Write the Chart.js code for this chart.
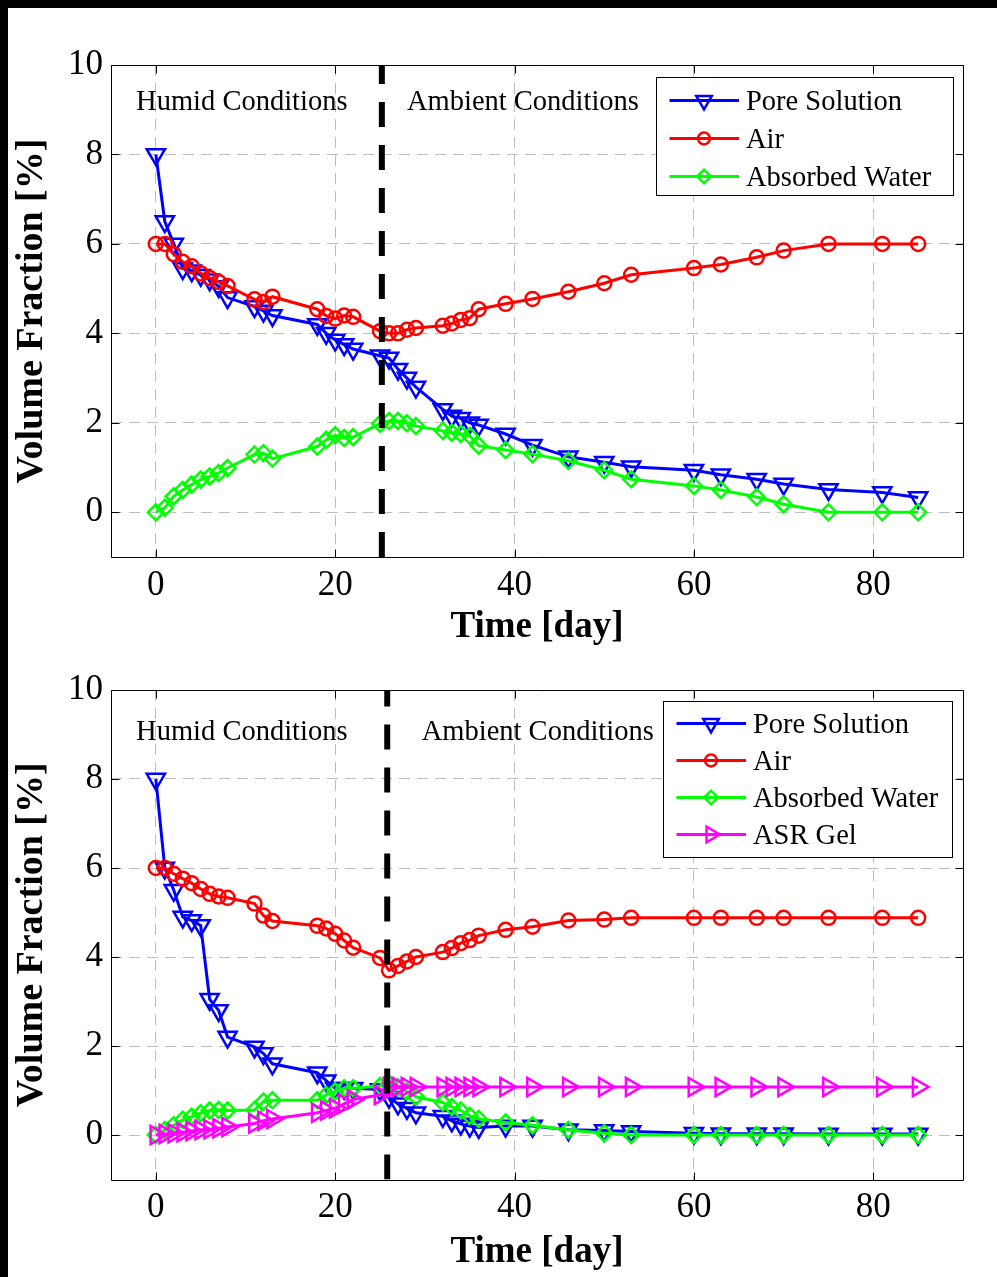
<!DOCTYPE html>
<html lang="en">
<head>
<meta charset="UTF-8">
<title>Volume Fraction vs Time</title>
<script src="https://cdn.jsdelivr.net/npm/chart.js"></script>
<style>
  body { margin:0; background:#000; width:997px; height:1277px; overflow:hidden; }
  #sheet { position:absolute; left:8px; top:8px; width:989px; height:1269px; background:#fff; }
  canvas { position:absolute; left:0; }
</style>
</head>
<body>
<div id="sheet">
  <canvas id="topChart" width="989" height="640" style="top:0"></canvas>
  <canvas id="bottomChart" width="989" height="629" style="top:640px"></canvas>
</div>
<script>
// sample days, shared by every series
const days = [0, 1, 2, 3, 4, 5, 6, 7, 8, 11, 12, 13, 18, 19, 20, 21, 22, 25, 26, 27, 28, 29,
  32, 33, 34, 35, 36, 39, 42, 46, 50, 53, 60, 63, 67, 70, 75, 81, 85];

// upper panel
const poreTop = [8.0, 6.5, 6.0, 5.45, 5.4, 5.3, 5.2, 5.05, 4.8, 4.6, 4.5, 4.4, 4.2, 4.0, 3.85, 3.75, 3.65,
  3.5, 3.45, 3.2, 3.0, 2.8, 2.3, 2.15, 2.1, 2.0, 1.95, 1.75, 1.5, 1.24, 1.12, 1.02, 0.94, 0.84, 0.74, 0.63,
  0.51, 0.44, 0.33];
const airTop = [6.0, 6.0, 5.77, 5.6, 5.5, 5.34, 5.24, 5.15, 5.06, 4.76, 4.7, 4.82, 4.54, 4.39, 4.33, 4.4, 4.37,
  4.05, 4.0, 4.0, 4.08, 4.12, 4.17, 4.22, 4.3, 4.34, 4.54, 4.66, 4.77, 4.93, 5.12, 5.31, 5.46, 5.54, 5.7, 5.85,
  6.0, 6.0, 6.0];
const waterTop = [0, 0.1, 0.36, 0.5, 0.62, 0.73, 0.8, 0.88, 0.99, 1.29, 1.32, 1.2, 1.47, 1.62, 1.72, 1.66, 1.68,
  1.98, 2.04, 2.04, 1.99, 1.93, 1.82, 1.78, 1.75, 1.71, 1.49, 1.39, 1.3, 1.15, 0.94, 0.74, 0.59, 0.5, 0.34, 0.18,
  0, 0, 0];

// lower panel (with ASR gel)
const poreBottom = [8.0, 6.0, 5.5, 4.9, 4.82, 4.71, 3.05, 2.8, 2.2, 1.98, 1.83, 1.6, 1.4, 1.22, 1.05, 1.05, 1.05,
  1.02, 0.85, 0.7, 0.6, 0.5, 0.42, 0.32, 0.25, 0.2, 0.17, 0.2, 0.2, 0.12, 0.1, 0.08, 0.04, 0.03, 0.03, 0.03,
  0.02, 0.02, 0.02];
const airBottom = [6.0, 6.0, 5.87, 5.76, 5.66, 5.53, 5.42, 5.36, 5.33, 5.2, 4.93, 4.81, 4.7, 4.64, 4.52, 4.37, 4.21,
  3.98, 3.7, 3.8, 3.9, 4.0, 4.11, 4.2, 4.31, 4.38, 4.48, 4.61, 4.68, 4.82, 4.84, 4.88, 4.88, 4.88, 4.88, 4.88,
  4.88, 4.88, 4.88];
const waterBottom = [0, 0.11, 0.22, 0.34, 0.41, 0.49, 0.55, 0.56, 0.55, 0.56, 0.75, 0.78, 0.78, 0.9, 0.98, 1.05, 1.05,
  1.1, 1.15, 1.07, 0.97, 0.86, 0.73, 0.63, 0.55, 0.43, 0.36, 0.28, 0.22, 0.11, 0.04, 0, 0, 0, 0, 0,
  0, 0, 0];
const gelBottom = [0, 0.02, 0.04, 0.06, 0.09, 0.11, 0.13, 0.15, 0.18, 0.26, 0.32, 0.36, 0.5, 0.55, 0.6, 0.7, 0.8,
  0.9, 1.08, 1.08, 1.08, 1.08, 1.08, 1.08, 1.08, 1.08, 1.08, 1.08, 1.08, 1.08, 1.08, 1.08, 1.08, 1.08, 1.08, 1.08,
  1.08, 1.08, 1.08];

const xTicks = [0, 20, 40, 60, 80];
const yTicks = [0, 2, 4, 6, 8, 10];
const switchDayTop = 25.2;
const switchDayBottom = 25.8;

const serif = "'Liberation Serif', 'Times New Roman', serif";

const styles = {
  'Pore Solution':  { color: '#0000ff', shape: 'triangle', rot: 180, r: 10.5 },
  'Air':            { color: '#ff0000', shape: 'circle',   rot: 0,   r: 7 },
  'Absorbed Water': { color: '#00ff00', shape: 'rectRot',  rot: 0,   r: 8 },
  'ASR Gel':        { color: '#ff00ff', shape: 'triangle', rot: 90,  r: 10.5 }
};

// later series sit on top, like matlab's plot order
function series(name, values, i, n) {
  const s = styles[name];
  return {
    label: name,
    data: days.map((d, k) => ({ x: d, y: values[k] })),
    borderColor: s.color,
    borderWidth: 3,
    pointStyle: s.shape,
    pointRotation: s.rot,
    pointRadius: s.r,
    pointBorderWidth: 2.5,
    pointBorderColor: s.color,
    pointBackgroundColor: 'rgba(0,0,0,0)',
    tension: 0,
    order: n - i + 1
  };
}

function switchLine(day) {
  return {
    label: '',
    skipLegend: true,
    data: [{ x: day, y: -1 }, { x: day, y: 10 }],
    borderColor: '#000',
    borderWidth: 6,
    borderDash: [25, 18],
    pointRadius: 0,
    order: 0
  };
}

function drawMarker(ctx, shape, x, y, r, rotDeg) {
  const rad = rotDeg * Math.PI / 180;
  ctx.beginPath();
  if (shape === 'circle') {
    ctx.arc(x, y, r, 0, 2 * Math.PI);
  } else if (shape === 'triangle') {
    for (let k = 0; k < 3; k++) {
      const a = rad + k * 2 * Math.PI / 3;
      const px = x + Math.sin(a) * r, py = y - Math.cos(a) * r;
      if (k) ctx.lineTo(px, py); else ctx.moveTo(px, py);
    }
    ctx.closePath();
  } else {
    ctx.moveTo(x - r, y); ctx.lineTo(x, y - r); ctx.lineTo(x + r, y); ctx.lineTo(x, y + r);
    ctx.closePath();
  }
  ctx.stroke();
}

// axes box with inward ticks on all four sides
const frame = {
  id: 'frame',
  afterDatasetsDraw(chart) {
    const { ctx, chartArea: a, scales: { x, y } } = chart;
    const L = Math.round(a.left) + 0.5, R = Math.round(a.right) + 0.5;
    const T = Math.round(a.top) + 0.5, B = Math.round(a.bottom) + 0.5;
    ctx.save();
    ctx.strokeStyle = '#000';
    ctx.lineWidth = 1;
    ctx.beginPath();
    ctx.rect(L, T, R - L, B - T);
    xTicks.forEach(v => {
      const px = Math.round(x.getPixelForValue(v)) + 0.5;
      ctx.moveTo(px, B); ctx.lineTo(px, B - 8);
      ctx.moveTo(px, T); ctx.lineTo(px, T + 8);
    });
    yTicks.forEach(v => {
      const py = Math.round(y.getPixelForValue(v)) + 0.5;
      ctx.moveTo(L, py); ctx.lineTo(L + 8, py);
      ctx.moveTo(R, py); ctx.lineTo(R - 8, py);
    });
    ctx.stroke();
    ctx.restore();
  }
};

const phaseNotes = {
  id: 'phaseNotes',
  afterDraw(chart, args, opts) {
    const { ctx, scales: { x, y } } = chart;
    ctx.save();
    ctx.font = '28.5px ' + serif;
    ctx.fillStyle = '#000';
    ctx.textBaseline = 'middle';
    ctx.textAlign = 'left';
    opts.items.forEach(n => ctx.fillText(n.text, x.getPixelForValue(n.x), y.getPixelForValue(n.y)));
    ctx.restore();
  }
};

const boxLegend = {
  id: 'boxLegend',
  afterDraw(chart, args, opts) {
    const { ctx, chartArea: a } = chart;
    const items = chart.data.datasets.filter(d => !d.skipLegend);
    const h = opts.padTop + (items.length - 1) * opts.rowGap + opts.padBottom;
    const left = Math.round(a.right - opts.right - opts.width);
    const top = Math.round(a.top + opts.top);
    ctx.save();
    ctx.fillStyle = '#fff';
    ctx.fillRect(left, top, opts.width, h);
    ctx.strokeStyle = '#000';
    ctx.lineWidth = 1;
    ctx.strokeRect(left + 0.5, top + 0.5, opts.width, Math.round(h));
    ctx.font = '28.5px ' + serif;
    ctx.textBaseline = 'middle';
    items.forEach((d, i) => {
      const cy = top + opts.padTop + i * opts.rowGap;
      ctx.strokeStyle = d.borderColor;
      ctx.lineWidth = d.borderWidth;
      ctx.beginPath();
      ctx.moveTo(left + 13.5, cy);
      ctx.lineTo(left + 83, cy);
      ctx.stroke();
      ctx.lineWidth = d.pointBorderWidth;
      drawMarker(ctx, d.pointStyle, left + 48, cy, d.pointRadius * 0.85, d.pointRotation);
      ctx.fillStyle = '#000';
      ctx.fillText(d.label, left + 90, cy + 2);
    });
    ctx.restore();
  }
};

function makeChart(id, datasets, geom, notes, legendOpts) {
  return new Chart(document.getElementById(id), {
    type: 'line',
    data: { datasets },
    options: {
      responsive: false,
      animation: false,
      events: [],
      layout: { padding: { top: geom.top, right: 34, left: 0, bottom: 0 } },
      plugins: {
        legend: { display: false },
        tooltip: { enabled: false },
        phaseNotes: { items: notes },
        boxLegend: legendOpts
      },
      scales: {
        x: {
          type: 'linear',
          min: -5,
          max: 90,
          afterBuildTicks: s => { s.ticks = xTicks.map(v => ({ value: v })); },
          afterFit: s => { s.height = geom.xAxisHeight; },
          grid: { color: '#bdbdbd', lineWidth: 1, drawTicks: false },
          border: { display: false, dash: [11, 7] },
          ticks: { padding: 11, color: '#000', maxRotation: 0, font: { family: serif, size: 35, lineHeight: 1 } },
          title: {
            display: true, text: 'Time [day]', color: '#000',
            font: { family: serif, size: 37, weight: 'bold', lineHeight: 1 },
            padding: { top: 0, bottom: geom.xTitlePad }
          }
        },
        y: {
          min: -1,
          max: 10,
          afterBuildTicks: s => { s.ticks = yTicks.map(v => ({ value: v })); },
          afterFit: s => { s.width = 103; },
          grid: { color: '#bdbdbd', lineWidth: 1, drawTicks: false },
          border: { display: false, dash: [11, 7] },
          ticks: { padding: 8, color: '#000', font: { family: serif, size: 35, lineHeight: 1 } },
          title: {
            display: true, text: 'Volume Fraction [%]', color: '#000',
            font: { family: serif, size: 38, weight: 'bold', lineHeight: 1 },
            padding: { top: 5, bottom: 0 }
          }
        }
      }
    },
    plugins: [frame, phaseNotes, boxLegend]
  });
}

const topSets = [
  series('Pore Solution', poreTop, 0, 3),
  series('Air', airTop, 1, 3),
  series('Absorbed Water', waterTop, 2, 3),
  switchLine(switchDayTop)
];
makeChart('topChart', topSets,
  { top: 57, xAxisHeight: 91, xTitlePad: 2 },
  [{ text: 'Humid Conditions', x: -2.2, y: 9.17 }, { text: 'Ambient Conditions', x: 28, y: 9.17 }],
  { width: 297, right: 10, top: 12, padTop: 23.5, rowGap: 38, padBottom: 18.5 });

const bottomSets = [
  series('Pore Solution', poreBottom, 0, 4),
  series('Air', airBottom, 1, 4),
  series('Absorbed Water', waterBottom, 2, 4),
  series('ASR Gel', gelBottom, 3, 4),
  switchLine(switchDayBottom)
];
makeChart('bottomChart', bottomSets,
  { top: 42, xAxisHeight: 97.5, xTitlePad: 6 },
  [{ text: 'Humid Conditions', x: -2.2, y: 9.04 }, { text: 'Ambient Conditions', x: 29.65, y: 9.04 }],
  { width: 289, right: 11, top: 10.5, padTop: 22.5, rowGap: 37, padBottom: 22.5 });
</script>
</body>
</html>
